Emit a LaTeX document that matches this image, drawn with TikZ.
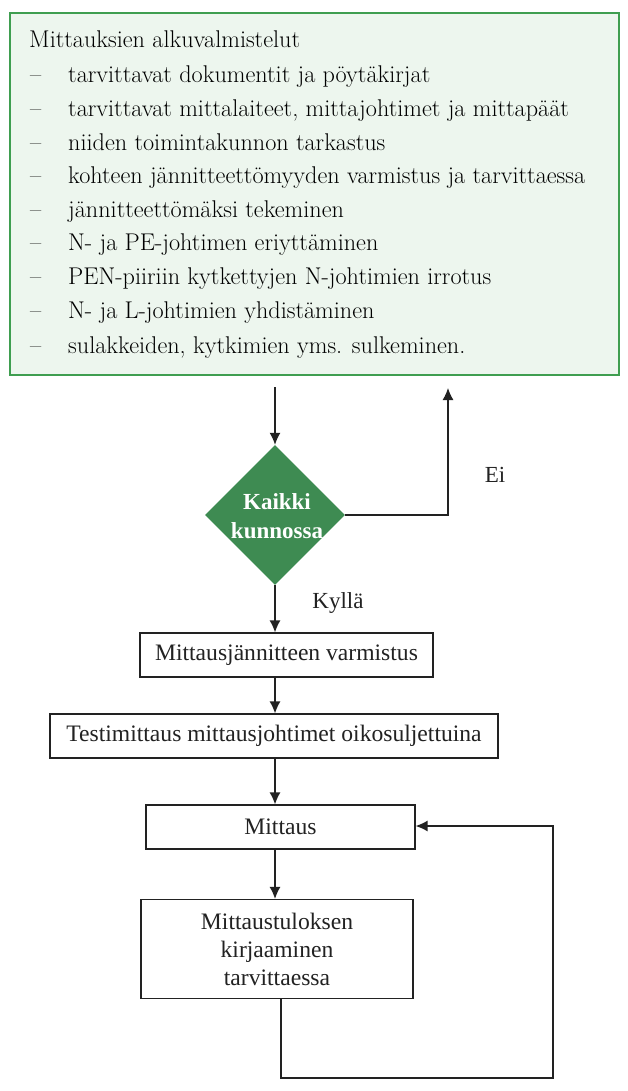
\documentclass[tikz,border=0pt]{standalone}
\usepackage{fontspec}
\setmainfont{Liberation Serif}
\newfontfamily\prepfont{Latin Modern Roman}
\usepackage{tikz}
\usetikzlibrary{positioning}
\usetikzlibrary{shapes.geometric}
\usetikzlibrary{arrows.meta}
\definecolor{prepfill}{HTML}{EDF6EE}
\definecolor{prepline}{HTML}{3F9E50}
\definecolor{checkfill}{HTML}{3E8B52}
\definecolor{inkgray}{HTML}{222222}

\begin{document}
\begin{tikzpicture}[x=1pt,y=-1pt,
    flow/.style={draw=inkgray, line width=1.3pt, -{Latex[length=12pt,width=11pt]}},
    stepbox/.style={draw=inkgray, line width=1.2pt, fill=white, inner sep=0pt, text=inkgray,
        font=\fontsize{23.6}{28}\selectfont, align=center},
    listtext/.style={anchor=base west, inner sep=0pt, text=black, font=\prepfont\fontsize{24.2}{28}\selectfont},
    plain/.style={inner sep=0pt, text=inkgray, font=\fontsize{23}{26}\selectfont}]
    \useasboundingbox (0,0) rectangle (627,1091);

    % preparations
    \node[draw=prepline, fill=prepfill, line width=2pt, minimum width=609pt, minimum height=362pt, inner sep=0pt] (prep) at (314.5,194) {};
    \node[listtext] (title) at (29,48) {Mittauksien alkuvalmistelut};
    \foreach \txt [count=\i, evaluate=\i as \y using {\i<9 ? 83+33.6*(\i-1) : 353}] in
        {tarvittavat dokumentit ja pöytäkirjat,
         {tarvittavat mittalaiteet, mittajohtimet ja mittapäät},
         niiden toimintakunnon tarkastus,
         kohteen jännitteettömyyden varmistus ja tarvittaessa,
         jännitteettömäksi tekeminen,
         N- ja PE-johtimen eriyttäminen,
         PEN-piiriin kytkettyjen N-johtimien irrotus,
         N- ja L-johtimien yhdistäminen,
         {sulakkeiden, kytkimien yms. sulkeminen.}}
    {
        \node[listtext] (dash\i) at (30,\y) {–};
        \node[listtext] (item\i) at (68,\y) {\txt};
    }

    % check
    \node[diamond, aspect=1, fill=checkfill, minimum width=140pt, minimum height=140pt, inner sep=0pt] (check) at (275,515) {};
    \node[inner sep=0pt, align=center, text=white, font=\fontsize{23}{29}\bfseries\selectfont] (checklabel) at (277,516) {Kaikki\\kunnossa};
    \coordinate (prepout) at (275,387);
    \coordinate (retry) at (448,388);
    \node[plain] (no) at (495,475) {Ei};
    \node[plain] (yes) at (338,603) {Kyllä};

    % steps
    \node[stepbox, minimum width=293pt, minimum height=44pt] (volt) at (286.5,655) {Mittausjännitteen varmistus};
    \node[stepbox, minimum width=448pt, minimum height=44pt] (test) at (274,736) {Testimittaus mittausjohtimet oikosuljettuina};
    \node[stepbox, minimum width=269pt, minimum height=44pt] (meas) at (280.5,827) {Mittaus};
    \node[stepbox, minimum width=272pt, minimum height=99pt, text depth=0pt] (record) at (277,949) {Mittaustuloksen\\kirjaaminen\\tarvittaessa};
    \coordinate (loop) at (553,1078);

    \draw[flow] (prepout) -- (check.north);
    \draw[flow] (check.east) -| (retry);
    \draw[flow] (check.south) -- (check.south |- volt.north);
    \draw[flow] (volt.south -| check) -- (check |- test.north);
    \draw[flow] (test.south -| check) -- (check |- meas.north);
    \draw[flow] (meas.south -| check) -- (check |- record.north);
    \draw[flow] (record.south -| 281,0) |- (loop) |- ([yshift=1pt]meas.east);
\end{tikzpicture}
\end{document}
